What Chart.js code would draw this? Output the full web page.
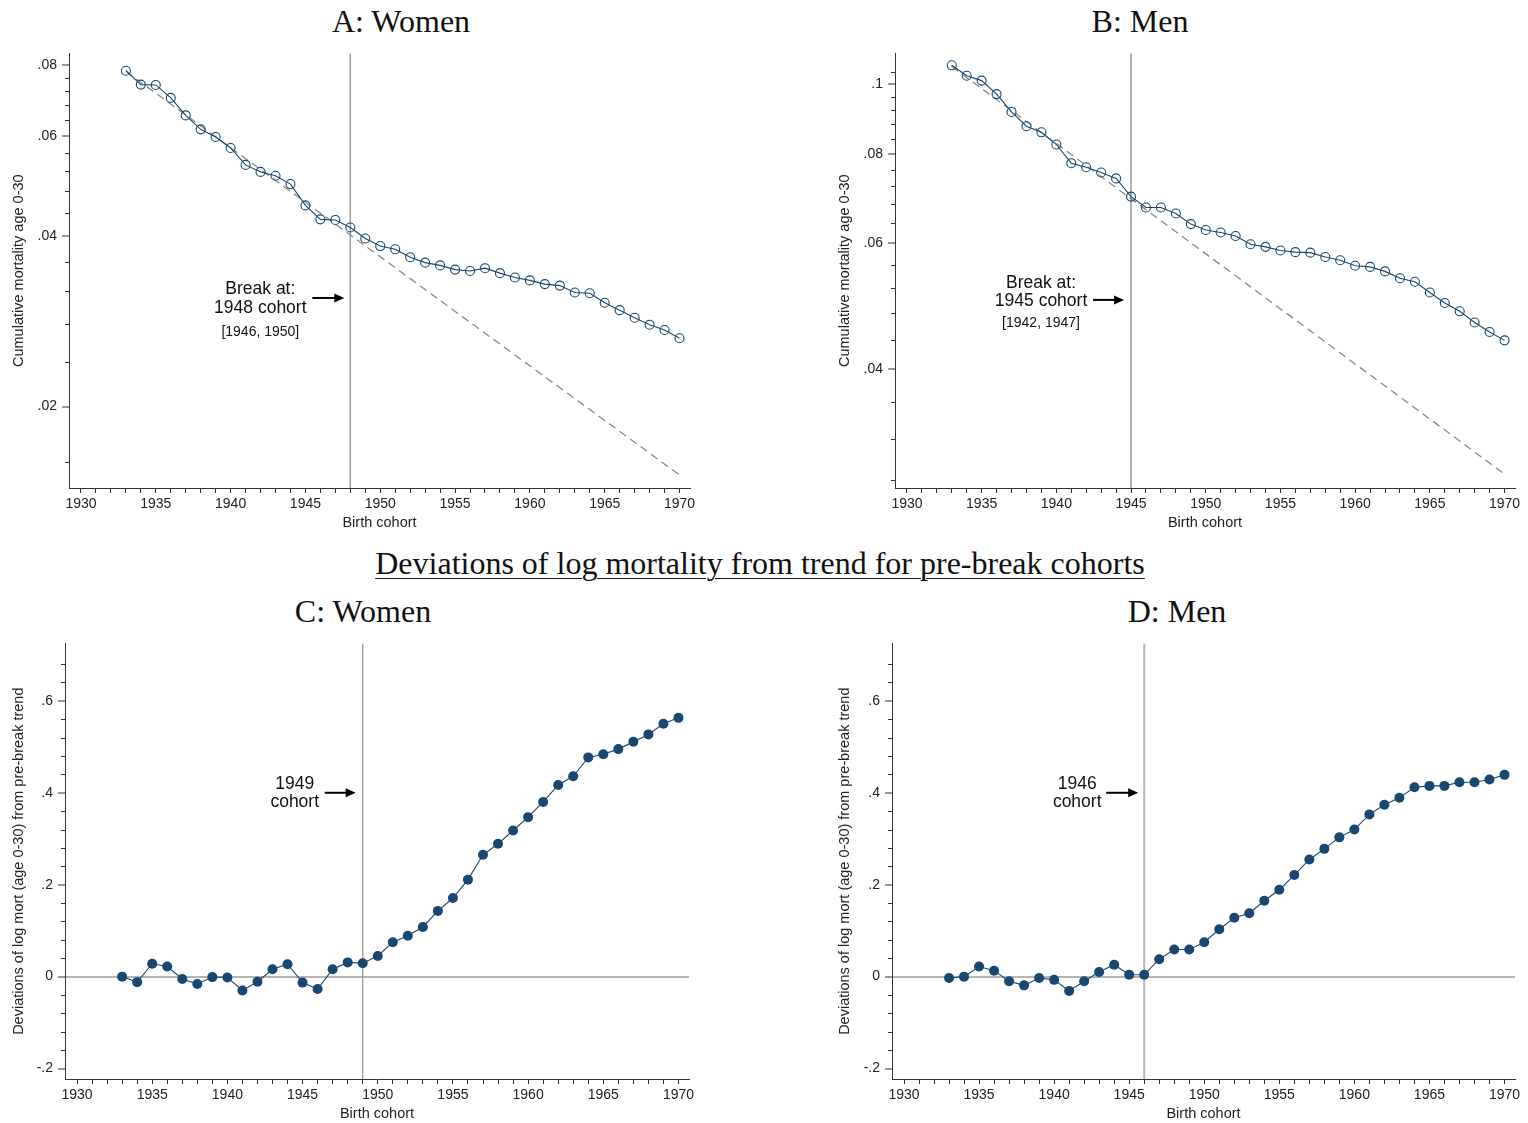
<!DOCTYPE html>
<html>
<head>
<meta charset="utf-8">
<script src="https://cdn.jsdelivr.net/npm/chart.js@4.4.1/dist/chart.umd.min.js"></script>
<style>
  body { margin: 0; background: #fff; width: 1528px; height: 1123px; position: relative; overflow: hidden; }
  canvas { position: absolute; }
  .ttl { position: absolute; font-family: "Liberation Serif", "Times New Roman", serif; font-size: 32px; line-height: 32px; color: #111; text-align: center; white-space: nowrap; }
  .head { text-decoration: underline; text-decoration-thickness: 1px; text-underline-offset: 4px; }
</style>
</head>
<body>
<div class="ttl" style="left:251px; top:5px; width:300px;">A: Women</div>
<div class="ttl" style="left:990px; top:5px; width:300px;">B: Men</div>
<div class="ttl head" style="left:260px; top:547px; width:1000px;">Deviations of log mortality from trend for pre-break cohorts</div>
<div class="ttl" style="left:213px; top:595px; width:300px;">C: Women</div>
<div class="ttl" style="left:1027px; top:595px; width:300px;">D: Men</div>

<canvas id="chartA" width="705" height="492" style="left:0; top:40px;"></canvas>
<canvas id="chartB" width="702" height="492" style="left:826px; top:40px;"></canvas>
<canvas id="chartC" width="705" height="493" style="left:0; top:630px;"></canvas>
<canvas id="chartD" width="702" height="493" style="left:826px; top:630px;"></canvas>

<script>
// Birth cohorts
const years = [1933, 1934, 1935, 1936, 1937, 1938, 1939, 1940, 1941, 1942, 1943, 1944, 1945, 1946, 1947, 1948, 1949, 1950, 1951,
  1952, 1953, 1954, 1955, 1956, 1957, 1958, 1959, 1960, 1961, 1962, 1963, 1964, 1965, 1966, 1967, 1968, 1969, 1970];

// Cumulative mortality age 0-30 (panels A and B)
const womenMort = [0.0783, 0.0740, 0.0739, 0.0701, 0.0653, 0.0617, 0.0598, 0.0572, 0.0534, 0.0519, 0.0511, 0.0494, 0.0453,
  0.0428, 0.0427, 0.0414, 0.0396, 0.0384, 0.0379, 0.0367, 0.0359, 0.0355, 0.0349, 0.0347, 0.0351, 0.0344, 0.0338, 0.0334,
  0.0329, 0.0327, 0.0318, 0.0317, 0.0305, 0.0296, 0.0287, 0.0279, 0.0273, 0.0264];
const menMort = [0.1063, 0.1028, 0.1012, 0.0969, 0.0915, 0.0874, 0.0857, 0.0824, 0.0776, 0.0766, 0.0753, 0.0739, 0.0697,
  0.0673, 0.0673, 0.0660, 0.0638, 0.0626, 0.0621, 0.0614, 0.0598, 0.0593, 0.0586, 0.0583, 0.0582, 0.0574, 0.0568, 0.0558,
  0.0556, 0.0548, 0.0536, 0.0530, 0.0512, 0.0495, 0.0482, 0.0465, 0.0451, 0.0439];

// Pre-break trend (straight on log scale), end points only
const trendYears = [1933, 1970];
const womenTrend = [0.0781, 0.01515];
const menTrend = [0.1059, 0.02856];

// Deviations of log mortality from pre-break trend (panels C and D)
const womenDev = [0, -0.012, 0.028, 0.022, -0.005, -0.016, -0.001, -0.002, -0.030, -0.011, 0.016, 0.027, -0.013, -0.027,
  0.016, 0.031, 0.029, 0.045, 0.075, 0.089, 0.108, 0.143, 0.171, 0.211, 0.265, 0.289, 0.318, 0.347, 0.380, 0.417, 0.436,
  0.477, 0.484, 0.495, 0.511, 0.527, 0.550, 0.563];
const menDev = [-0.003, 0, 0.022, 0.013, -0.010, -0.019, -0.003, -0.007, -0.031, -0.010, 0.010, 0.026, 0.004, 0.004,
  0.038, 0.059, 0.059, 0.075, 0.103, 0.128, 0.138, 0.165, 0.189, 0.221, 0.255, 0.278, 0.303, 0.320, 0.353, 0.374, 0.389,
  0.412, 0.415, 0.415, 0.423, 0.423, 0.429, 0.439];

// Break cohorts
const breakA = 1948, breakB = 1945, breakC = 1949, breakD = 1946;

// Axis ticks
const xLabelYears = [1930, 1935, 1940, 1945, 1950, 1955, 1960, 1965, 1970];
const womenYTicks = [0.02, 0.04, 0.06, 0.08];
const womenYMinor = [0.016, 0.024, 0.028, 0.032, 0.036, 0.044, 0.048, 0.052, 0.056, 0.064, 0.068, 0.072, 0.076];
const menYTicks = [0.04, 0.06, 0.08, 0.1];
const menYMinor = [0.028, 0.032, 0.036, 0.044, 0.048, 0.052, 0.056, 0.064, 0.068, 0.072, 0.076, 0.084, 0.088, 0.092, 0.096, 0.104];
const devYTicks = [-0.2, 0, 0.2, 0.4, 0.6];
const devYMinor = [-0.16, -0.12, -0.08, -0.04, 0.04, 0.08, 0.12, 0.16, 0.24, 0.28, 0.32, 0.36, 0.44, 0.48, 0.52, 0.56, 0.64, 0.68];

const NAVY = "#1a476f";
const SANS = '"Liberation Sans", Arial, Helvetica, sans-serif';
Chart.defaults.font.family = SANS;
Chart.defaults.font.size = 14;
Chart.defaults.color = "#222";

const fmt = v => (v === 0 ? "0" : String(v).replace("0.", "."));
const pts = (xs, ys) => xs.map((x, i) => ({ x: x, y: ys[i] }));

// break line, minor y ticks and the arrow note
const breakNote = {
  id: "breakNote",
  beforeDatasetsDraw(chart, args, o) {
    const { ctx, chartArea: a } = chart;
    const bx = chart.scales.x.getPixelForValue(o.year);
    ctx.save();
    ctx.strokeStyle = o.lineColor;
    ctx.lineWidth = o.lineWidth;
    ctx.beginPath();
    ctx.moveTo(bx, a.top);
    ctx.lineTo(bx, a.bottom);
    ctx.stroke();
    ctx.restore();
  },
  afterDraw(chart, args, o) {
    const { ctx, chartArea: a } = chart;
    const x = chart.scales.x, y = chart.scales.y;
    ctx.save();
    ctx.strokeStyle = "#333";
    ctx.lineWidth = 1;
    o.minor.forEach(v => {
      const py = Math.round(y.getPixelForValue(v)) + 0.5;
      ctx.beginPath();
      ctx.moveTo(a.left - 4, py);
      ctx.lineTo(a.left, py);
      ctx.stroke();
    });

    const bx = x.getPixelForValue(o.year);
    const ay = y.getPixelForValue(o.arrowAt);
    ctx.fillStyle = "#111";
    ctx.textAlign = "center";
    ctx.textBaseline = "middle";
    ctx.font = "17.5px " + SANS;
    o.lines.forEach((t, i) => ctx.fillText(t, bx - o.textDx, ay + o.lineDy[i]));
    if (o.sub) {
      ctx.font = "14px " + SANS;
      ctx.fillText(o.sub, bx - o.textDx, ay + o.subDy);
    }
    const x0 = bx - 38, x1 = bx - o.tipGap;
    ctx.strokeStyle = "#000";
    ctx.lineWidth = 2;
    ctx.beginPath();
    ctx.moveTo(x0, ay);
    ctx.lineTo(x1 - 8, ay);
    ctx.stroke();
    ctx.fillStyle = "#000";
    ctx.beginPath();
    ctx.moveTo(x1, ay);
    ctx.lineTo(x1 - 10, ay - 4.5);
    ctx.lineTo(x1 - 10, ay + 4.5);
    ctx.closePath();
    ctx.fill();
    ctx.restore();
  }
};

function xScale() {
  return {
    type: "linear",
    min: 1929.2,
    max: 1970.7,
    afterBuildTicks: s => {
      const t = [];
      for (let v = 1930; v <= 1970; v++) t.push({ value: v });
      s.ticks = t;
    },
    afterFit: s => { s.height = 44; },
    ticks: {
      autoSkip: false,
      maxRotation: 0,
      padding: 3,
      color: "#222",
      callback: v => (xLabelYears.includes(v) ? String(v) : "")
    },
    grid: { drawOnChartArea: false, tickLength: 5, tickColor: "#333", tickWidth: 1 },
    border: { color: "#333", width: 1 },
    title: { display: true, text: "Birth cohort", font: { size: 14.5 }, padding: { top: 1.6, bottom: 0 }, color: "#222" }
  };
}

function yScale(type, min, max, majors, title, width, titlePad) {
  return {
    type: type,
    min: min,
    max: max,
    afterBuildTicks: s => { s.ticks = majors.map(v => ({ value: v })); },
    afterFit: s => { s.width = width; },
    ticks: { autoSkip: false, padding: 5, color: "#222", callback: v => fmt(v) },
    grid: {
      drawOnChartArea: type === "linear",
      color: c => (c.tick && c.tick.value === 0 ? "#b4b4b4" : "rgba(0,0,0,0)"),
      lineWidth: c => (c.tick && c.tick.value === 0 ? 2 : 0),
      tickLength: 7,
      tickColor: "#333",
      tickWidth: 1
    },
    border: { color: "#333", width: 1 },
    title: { display: true, text: title, font: { size: 14.5 }, padding: { top: titlePad, bottom: 0 }, color: "#222" }
  };
}

function makePanel(id, datasets, ys, pad, note) {
  new Chart(document.getElementById(id), {
    type: "line",
    data: { datasets: datasets },
    options: {
      responsive: false,
      animation: false,
      layout: { padding: pad },
      plugins: { legend: { display: false }, tooltip: { enabled: false }, breakNote: note },
      scales: { x: xScale(), y: ys }
    },
    plugins: [breakNote]
  });
}

function mortSets(vals, trend) {
  return [
    {
      data: pts(years, vals),
      borderColor: NAVY,
      borderWidth: 1.1,
      pointRadius: 4.5,
      pointBorderWidth: 1.1,
      pointBorderColor: NAVY,
      pointBackgroundColor: "rgba(0,0,0,0)",
      tension: 0
    },
    {
      data: pts(trendYears, trend),
      borderColor: "#8a8a8a",
      borderWidth: 1.3,
      borderDash: [8, 5],
      pointRadius: 0
    }
  ];
}

function devSets(vals) {
  return [{
    data: pts(years, vals),
    borderColor: NAVY,
    borderWidth: 1.1,
    pointRadius: 5,
    pointBorderWidth: 0,
    pointBackgroundColor: NAVY,
    tension: 0
  }];
}

const mortTitle = "Cumulative mortality age 0-30";
const devTitle = "Deviations of log mort (age 0-30) from pre-break trend";

makePanel("chartA", mortSets(womenMort, womenTrend),
  yScale("logarithmic", 0.01437, 0.0840, womenYTicks, mortTitle, 69, 10),
  { left: 0, top: 12, right: 15, bottom: 0 },
  { year: breakA, arrowAt: 0.0311, lines: ["Break at:", "1948 cohort"], lineDy: [-9, 10], sub: "[1946, 1950]", subDy: 34,
    textDx: 90, tipGap: 6, minor: womenYMinor, lineColor: "#9a9a9a", lineWidth: 1.4 });

makePanel("chartB", mortSets(menMort, menTrend),
  yScale("logarithmic", 0.02731, 0.11045, menYTicks, mortTitle, 69, 10.6),
  { left: 0, top: 12, right: 13, bottom: 0 },
  { year: breakB, arrowAt: 0.0500, lines: ["Break at:", "1945 cohort"], lineDy: [-17, 1], sub: "[1942, 1947]", subDy: 23,
    textDx: 90, tipGap: 7, minor: menYMinor, lineColor: "#a8a8a8", lineWidth: 1.8 });

makePanel("chartC", devSets(womenDev),
  yScale("linear", -0.2227, 0.725, devYTicks, devTitle, 65, 10),
  { left: 0, top: 13, right: 16, bottom: 0 },
  { year: breakC, arrowAt: 0.4, lines: ["1949", "cohort"], lineDy: [-9, 9], sub: null, subDy: 0,
    textDx: 68, tipGap: 7, minor: devYMinor, lineColor: "#9a9a9a", lineWidth: 1.3 });

makePanel("chartD", devSets(menDev),
  yScale("linear", -0.2227, 0.725, devYTicks, devTitle, 66, 10.6),
  { left: 0, top: 13, right: 13, bottom: 0 },
  { year: breakD, arrowAt: 0.4, lines: ["1946", "cohort"], lineDy: [-9, 9], sub: null, subDy: 0,
    textDx: 67, tipGap: 6, minor: devYMinor, lineColor: "#b8b8b8", lineWidth: 2 });
</script>
</body>
</html>
